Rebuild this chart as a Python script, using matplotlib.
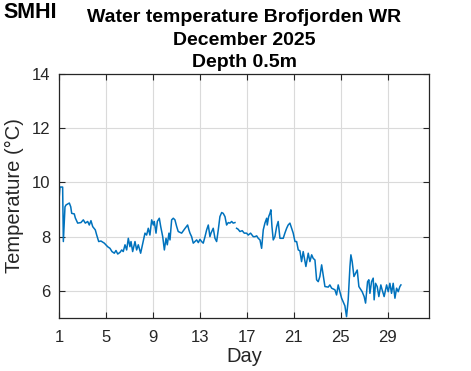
import numpy as np
import matplotlib
matplotlib.use("Agg")
from matplotlib import pyplot as plt

# readings, December 2025, depth 0.5 m (day of month, deg C)
day = [1.00, 1.08, 1.31, 1.37, 1.51, 1.60, 1.88, 2.00, 2.08, 2.30, 2.39, 2.59, 2.87,
       3.07, 3.24, 3.44, 3.58, 3.72, 3.87, 4.09, 4.21, 4.38, 4.57, 4.86, 5.14, 5.34,
       5.51, 5.71, 5.85, 6.00, 6.19, 6.34, 6.47, 6.62, 6.76, 6.90, 7.04, 7.13, 7.27,
       7.47, 7.61, 7.75, 7.95, 8.17, 8.32, 8.46, 8.60, 8.74, 8.89, 9.03, 9.11, 9.26,
       9.37, 9.54, 9.66, 9.83, 9.97, 10.11, 10.22, 10.36, 10.45, 10.59, 10.73, 10.87,
       11.02, 11.15, 11.44, 11.72, 11.95, 12.06, 12.15, 12.29, 12.43, 12.57, 12.72,
       12.86, 13.00, 13.14, 13.28, 13.43, 13.57, 13.71, 13.85, 13.94, 14.13, 14.28,
       14.42, 14.56, 14.70, 14.85, 14.98, 15.13, 15.27, 15.41, 15.55, 15.70, 15.83,
       15.98, 16.05, 16.12, 16.26, 16.40, 16.60, 16.77, 16.97, 17.11, 17.31, 17.54,
       17.68, 17.83, 17.96, 18.11, 18.25, 18.39, 18.53, 18.68, 18.73, 18.85, 18.96,
       19.04, 19.13, 19.24, 19.38, 19.53, 19.66, 19.81, 19.95, 20.09, 20.23, 20.38,
       20.51, 20.66, 20.80, 20.94, 21.09, 21.23, 21.37, 21.51, 21.65, 21.79, 22.02,
       22.22, 22.36, 22.51, 22.64, 22.79, 22.93, 23.07, 23.21, 23.36, 23.49, 23.64,
       23.92, 24.06, 24.21, 24.49, 24.63, 24.77, 24.91, 25.06, 25.34, 25.48, 25.62,
       25.77, 25.85, 25.96, 26.11, 26.25, 26.39, 26.53, 26.81, 26.98, 27.10, 27.27,
       27.38, 27.47, 27.61, 27.75, 27.83, 27.95, 28.09, 28.23, 28.40, 28.51, 28.68,
       28.89, 29.03, 29.17, 29.31, 29.45, 29.60, 29.74, 29.88, 30.02, 30.11]
temp = [9.35, 9.83, 9.83, 7.82, 9.10, 9.17, 9.24, 9.10, 8.86, 8.84, 8.69, 8.50, 8.52,
        8.62, 8.50, 8.56, 8.43, 8.59, 8.37, 8.25, 8.06, 7.82, 7.84, 7.76, 7.63, 7.57,
        7.45, 7.39, 7.49, 7.36, 7.42, 7.51, 7.45, 7.70, 7.51, 7.94, 7.63, 7.82, 7.45,
        7.82, 7.51, 7.70, 7.39, 7.82, 8.13, 8.06, 8.31, 8.06, 8.62, 8.43, 8.56, 8.13,
        8.56, 8.68, 8.37, 8.00, 7.51, 7.94, 7.70, 8.13, 7.88, 8.62, 8.68, 8.62,
        8.37, 8.19, 8.13, 8.30, 8.43, 8.25, 8.13, 8.00, 7.76, 7.82, 7.88,
        7.78, 7.90, 7.82, 7.76, 8.00, 8.25, 8.43, 8.00, 8.13, 8.31, 7.94,
        7.82, 8.25, 8.74, 8.89, 8.86, 8.74, 8.43, 8.52, 8.50, 8.56, 8.50,
        8.52, np.nan, 8.31, 8.27, 8.19, 8.22, 8.13, 8.13, 8.06, 8.13, 8.00,
        8.00, 8.03, 7.94, 7.88, 7.57, 8.25, 8.50, 8.68, 8.43, 8.74, 8.86,
        8.99, 8.37, 7.88, 8.00, 8.37, 8.56, 7.94, 7.94, 7.94, 8.13, 8.31,
        8.43, 8.50, 8.31, 8.13, 7.82, 7.82, 7.51, 7.48, 7.08, 7.45, 6.90,
        7.39, 7.08, 7.33, 7.20, 7.14, 6.41, 6.34, 6.53, 6.96, 6.59, 6.16,
        6.14, 6.22, 6.10, 6.04, 5.85, 6.22, 5.97, 5.73, 5.45, 5.05, 5.67,
        6.90, 7.33, 7.08, 6.53, 6.65, 6.77, 6.16, 5.97, 5.79, 5.55, 6.34,
        6.41, 5.91, 6.34, 6.47, 5.67, 6.28, 6.16, 5.79, 6.22, 6.04, 5.79,
        6.22, 5.97, 6.28, 5.91, 6.28, 5.73, 6.10, 5.97, 6.16, 6.22]

xticks = [1, 5, 9, 13, 17, 21, 25, 29]
yticks = [6, 8, 10, 12, 14]

plt.rcParams['font.family'] = ['Liberation Sans', 'DejaVu Sans']
ink = '#262626'

fig = plt.figure(figsize=(4.71, 3.71), dpi=100)
ax = fig.add_axes([59 / 471, 53 / 371, 370 / 471, 244 / 371])

ax.plot(day, temp, color='#0072BD', linewidth=1.1)

ax.set_xlim(1, 32.5)
ax.set_ylim(5, 14)
ax.set_xticks(xticks)
ax.set_yticks(yticks)
ax.grid(True, color='#dadada', linewidth=0.8)
ax.set_axisbelow(True)
ax.tick_params(direction='in', length=4, width=0.8, labelsize=12,
               top=True, right=True, colors=ink)
ax.tick_params(axis='x', pad=9)
ax.tick_params(axis='y', pad=6)
for s in ax.spines.values():
    s.set_color(ink)
    s.set_linewidth(0.9)

ax.set_xlabel('Day', fontsize=14.5, color=ink, labelpad=1)
ax.set_ylabel('Temperature (°C)', fontsize=14.5, color=ink, labelpad=6)
ax.set_title('Water temperature Brofjorden WR\nDecember 2025\nDepth 0.5m',
             fontsize=14, fontweight='bold', linespacing=1.42, pad=5)

# logo
fig.text(3 / 471, 1 - 13 / 371, 'SMHI', fontsize=15.5, fontweight='black',
         va='center', ha='left')

fig.savefig('out.png', dpi=100)
